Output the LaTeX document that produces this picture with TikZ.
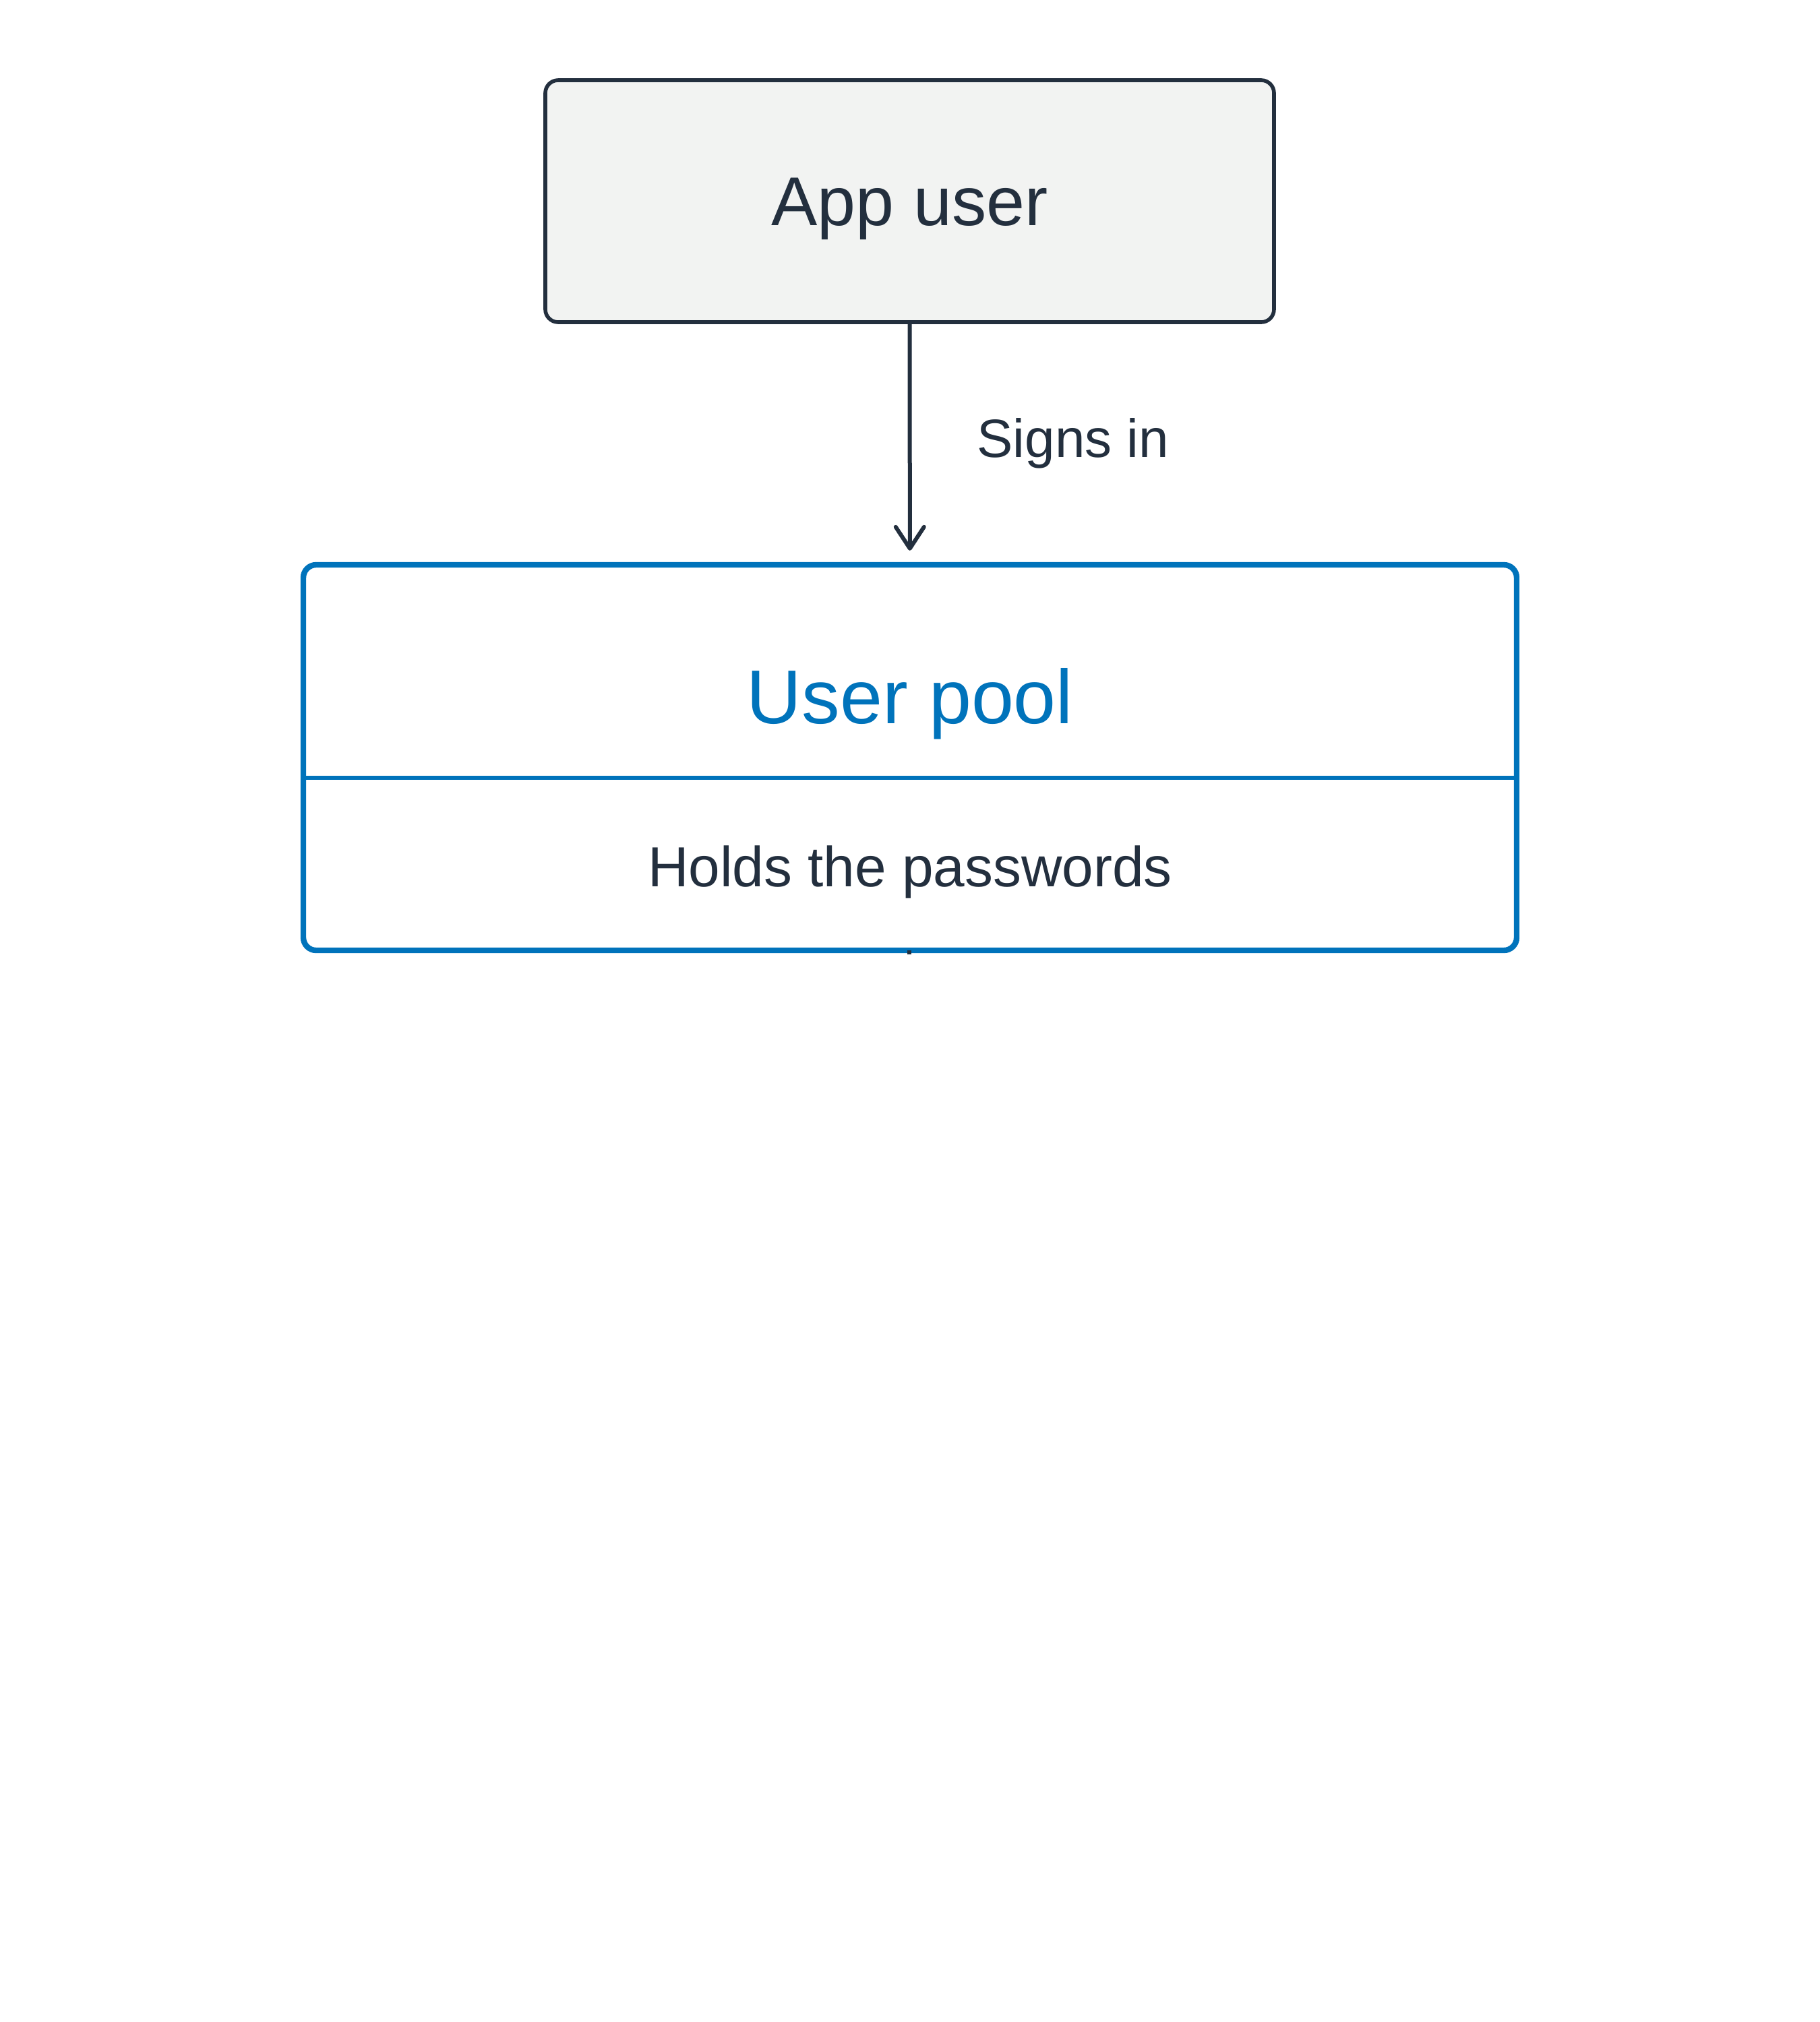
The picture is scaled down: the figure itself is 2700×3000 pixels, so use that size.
\documentclass[tikz,border=0pt]{standalone}
\usepackage{fontspec}
\setmainfont{Liberation Sans}
\usetikzlibrary{arrows.meta}
\definecolor{ink}{HTML}{232F3E}
\definecolor{awsblue}{HTML}{0073BB}
\definecolor{boxfill}{HTML}{F2F3F2}
\begin{document}
\begin{tikzpicture}[x=0.5pt,y=-0.5pt,
  userbox/.style={draw=ink, fill=boxfill, line width=2.8pt, rounded corners=9.5pt,
    minimum width=540.5pt, minimum height=179.5pt, inner sep=0pt},
  poolbox/.style={draw=awsblue, line width=4.2pt, rounded corners=9.5pt,
    minimum width=900pt, minimum height=286pt, inner sep=0pt},
  divider/.style={draw=awsblue, line width=2.6pt},
  conn/.style={draw=ink, line width=3pt,
    -{Straight Barb[length=16pt,width=21pt,line cap=round,line join=round]}},
  tick/.style={draw=ink, line width=3pt},
  lbl/.style={text=ink, inner sep=0pt, anchor=base}]
\useasboundingbox[fill=white] (0,0) rectangle (2700,3000);
% boxes
\node[userbox] (appuser) at (1349.5,298.5) {};
\node[poolbox] (pool) at (1350,1124) {};
\coordinate (divL) at (452,1154);
\coordinate (divR) at (2248,1154);
\draw[divider] (divL) -- (divR);
% texts
\node[lbl, font=\fontsize{51.2}{60}\selectfont] (appusertext) at (1349.5,334) {App user};
\node[lbl, text=awsblue, font=\fontsize{56.6}{66}\selectfont] (pooltitle) at (1350,1073) {User pool};
\node[lbl, font=\fontsize{41.9}{50}\selectfont] (poolsub) at (1350,1315) {Holds the passwords};
% connector
\draw[conn, shorten >=8.5pt] (appuser) -- (pool);
\node[lbl, anchor=base west, font=\fontsize{40}{48}\selectfont] (signsin) at (1449,678.5) {Signs in};
% small stub under the pool
\coordinate (tickA) at (1349,1410);
\coordinate (tickB) at (1349,1416);
\draw[tick] (tickA) -- (tickB);
\end{tikzpicture}
\end{document}
